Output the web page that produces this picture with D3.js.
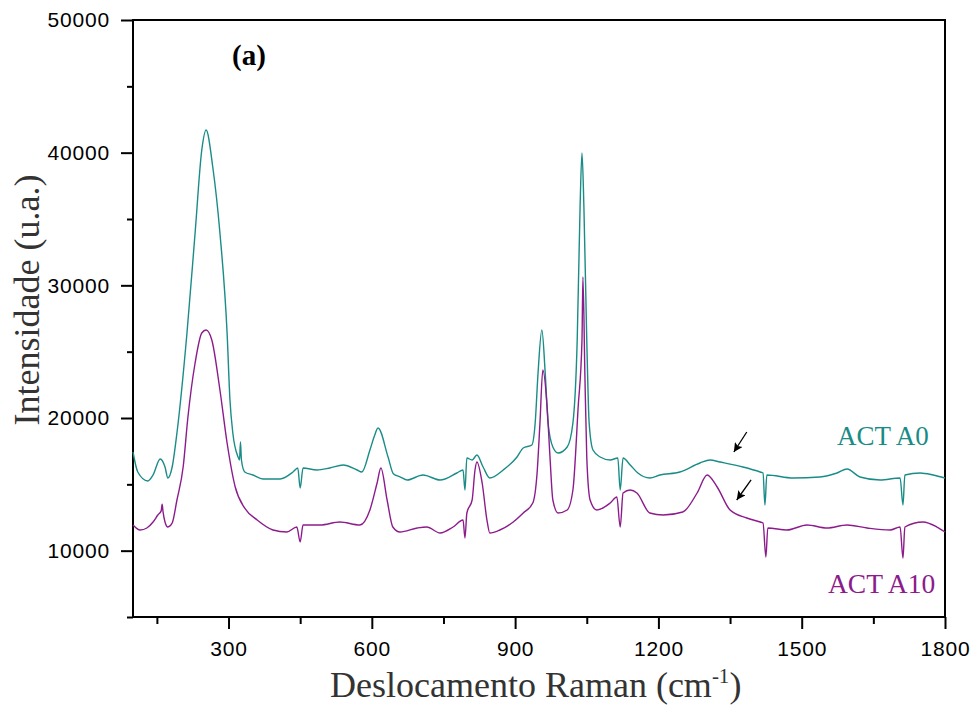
<!DOCTYPE html>
<html>
<head>
<meta charset="utf-8">
<script src="https://cdn.jsdelivr.net/npm/d3@7"></script>
<style>
  body { margin: 0; background: #fff; }
  svg { display: block; }
</style>
</head>
<body>
<script>
const width = 979, height = 708;
const margin = { top: 20, right: 34, bottom: 91, left: 133 };

// spectrum ACT A0 (Raman shift cm-1, intensity)
const shiftA0 = [100, 110, 131, 142, 157, 167, 173, 182, 192, 213, 230, 244, 253, 267, 282, 297, 303, 309, 320, 323, 325, 327, 334, 351, 372, 408, 435, 445, 450, 456, 485, 512, 540, 569, 579, 596, 605, 613, 634, 645, 660, 674, 707, 743, 778, 791, 795, 799, 810, 820, 833, 847, 875, 904, 917, 935, 942, 948, 956, 963, 969, 979, 990, 1009, 1021, 1030, 1036, 1040, 1044, 1050, 1055, 1063, 1078, 1099, 1115, 1120, 1126, 1141, 1157, 1182, 1203, 1245, 1287, 1308, 1329, 1377, 1413, 1419, 1423, 1427, 1482, 1538, 1574, 1595, 1622, 1664, 1706, 1712, 1716, 1748, 1775, 1800];
const intA0 = [17437, 15930, 15251, 15704, 16909, 16306, 15477, 16306, 18869, 26407, 33945, 40201, 41709, 38920, 33945, 26407, 21357, 18869, 17060, 16834, 18191, 16834, 15930, 15704, 15402, 15402, 15930, 16231, 14724, 16231, 16080, 16231, 16457, 16080, 15930, 17588, 18600, 19246, 17060, 15800, 15550, 15327, 15704, 15327, 15854, 16080, 14573, 16985, 16834, 17211, 16306, 15477, 16080, 17060, 17739, 17965, 19623, 23392, 26633, 23392, 19623, 17814, 17362, 17814, 19623, 25879, 35905, 39975, 35905, 25879, 19623, 17588, 17060, 16834, 16985, 14573, 16985, 16457, 15854, 15477, 15700, 15930, 16608, 16834, 16683, 16306, 15930, 15854, 13442, 15704, 15477, 15553, 15854, 16155, 15553, 15327, 15477, 13442, 15704, 15854, 15704, 15477];

// spectrum ACT A10
const shiftA10 = [100, 115, 129, 142, 152, 159, 161, 163, 167, 173, 182, 192, 205, 215, 230, 244, 253, 265, 282, 297, 314, 334, 360, 393, 422, 443, 450, 456, 492, 533, 575, 596, 611, 619, 632, 644, 659, 695, 715, 743, 770, 791, 795, 799, 810, 816, 820, 831, 841, 847, 868, 896, 917, 937, 946, 952, 958, 967, 973, 979, 990, 1009, 1021, 1032, 1040, 1042, 1046, 1050, 1057, 1071, 1099, 1113, 1120, 1126, 1141, 1155, 1182, 1210, 1251, 1281, 1302, 1323, 1350, 1385, 1413, 1419, 1425, 1429, 1469, 1511, 1553, 1595, 1637, 1685, 1706, 1712, 1716, 1754, 1783, 1800];
const intA10 = [11934, 11558, 11708, 12161, 12688, 13000, 13500, 12900, 12161, 11783, 12085, 13819, 16306, 20075, 24146, 26407, 26633, 25879, 22111, 18116, 14800, 13200, 12311, 11558, 11407, 11783, 10653, 11934, 11934, 12161, 11934, 13065, 15100, 16231, 13819, 11783, 11407, 11708, 11783, 11331, 11783, 12311, 10955, 12839, 13819, 16080, 16683, 15100, 12311, 11331, 11558, 12161, 12839, 13593, 15854, 19623, 23618, 20829, 17060, 13819, 12839, 13065, 14573, 20829, 25879, 30628, 23392, 17060, 13819, 13065, 13593, 14045, 11783, 14347, 14573, 14347, 12839, 12688, 12915, 14347, 15704, 14799, 13065, 12462, 12161, 12085, 9522, 11708, 11558, 11934, 11708, 11934, 11708, 11558, 11783, 9447, 11783, 12161, 11783, 11407];

const xTicks = d3.range(150, 1801, 150);
const yTicks = d3.range(5000, 50001, 5000);

// arrows: [tailX, tailY, tipX, tipY] in data units
const arrows = [
  [1385, 18944, 1358, 17437],
  [1394, 15327, 1364, 13819]
];

const colA0 = "#1a8c87", colA10 = "#8c1c8c";

const svg = d3.select("body").append("svg")
    .attr("width", width)
    .attr("height", height);

const x = d3.scaleLinear().domain([100, 1800]).range([margin.left, width - margin.right]);
const y = d3.scaleLinear().domain([5000, 50000]).range([height - margin.bottom, margin.top]);

// axes: minor ticks short, major ticks long and labelled
svg.append("g")
    .attr("transform", `translate(0,${height - margin.bottom})`)
    .call(d3.axisBottom(x).tickValues(xTicks.filter(d => d % 300 !== 0)).tickSize(7).tickSizeOuter(0).tickFormat(""))
    .call(g => g.select(".domain").remove());
svg.append("g")
    .attr("transform", `translate(0,${height - margin.bottom})`)
    .call(d3.axisBottom(x).tickValues(xTicks.filter(d => d % 300 === 0)).tickSize(12).tickPadding(12).tickSizeOuter(0).tickFormat(d3.format("d")))
    .call(g => g.select(".domain").remove());

svg.append("g")
    .attr("transform", `translate(${margin.left},0)`)
    .call(d3.axisLeft(y).tickValues(yTicks.filter(d => d % 10000 !== 0)).tickSize(6).tickSizeOuter(0).tickFormat(""))
    .call(g => g.select(".domain").remove());
svg.append("g")
    .attr("transform", `translate(${margin.left},0)`)
    .call(d3.axisLeft(y).tickValues(yTicks.filter(d => d % 10000 === 0)).tickSize(12).tickPadding(11).tickSizeOuter(0).tickFormat(d3.format("d")))
    .call(g => g.select(".domain").remove());

svg.selectAll(".tick line").attr("stroke", "#000").attr("stroke-width", 2);
svg.selectAll(".tick text")
    .attr("fill", "#000")
    .style("font-family", "'Liberation Sans', Arial, sans-serif")
    .style("font-size", "21px")
    .style("letter-spacing", "0.8px");

// frame
svg.append("rect")
    .attr("x", margin.left)
    .attr("y", margin.top)
    .attr("width", width - margin.left - margin.right)
    .attr("height", height - margin.top - margin.bottom)
    .attr("fill", "none")
    .attr("stroke", "#000")
    .attr("stroke-width", 2);

// spectra
const line = d3.line()
    .x(d => x(d[0]))
    .y(d => y(d[1]))
    .curve(d3.curveMonotoneX);

svg.append("path")
    .datum(d3.zip(shiftA0, intA0))
    .attr("fill", "none")
    .attr("stroke", colA0)
    .attr("stroke-width", 1.4)
    .attr("d", line);

svg.append("path")
    .datum(d3.zip(shiftA10, intA10))
    .attr("fill", "none")
    .attr("stroke", colA10)
    .attr("stroke-width", 1.4)
    .attr("d", line);

// arrows
svg.append("defs").append("marker")
    .attr("id", "head")
    .attr("viewBox", "0 0 10 10")
    .attr("refX", 10).attr("refY", 5)
    .attr("markerWidth", 13).attr("markerHeight", 9)
    .attr("markerUnits", "userSpaceOnUse")
    .attr("orient", "auto")
  .append("path")
    .attr("d", "M0,0 L10,5 L0,10 L2,5 Z")
    .attr("fill", "#000");

svg.selectAll(".arrow")
  .data(arrows)
  .enter().append("line")
    .attr("class", "arrow")
    .attr("x1", d => x(d[0])).attr("y1", d => y(d[1]))
    .attr("x2", d => x(d[2])).attr("y2", d => y(d[3]))
    .attr("stroke", "#000")
    .attr("stroke-width", 1.3)
    .attr("marker-end", "url(#head)");

// labels
const serif = "'Liberation Serif', 'Times New Roman', serif";

svg.append("text")
    .attr("x", x(1574)).attr("y", y(17965))
    .attr("fill", colA0)
    .style("font-family", serif).style("font-size", "27px")
    .text("ACT A0");

svg.append("text")
    .attr("x", x(1555)).attr("y", y(6809))
    .attr("fill", colA10)
    .style("font-family", serif).style("font-size", "27.5px")
    .text("ACT A10");

svg.append("text")
    .attr("x", 232).attr("y", 65)
    .style("font-family", serif).style("font-size", "29px").style("font-weight", "bold")
    .text("(a)");

// axis titles
const xTitle = svg.append("text")
    .attr("x", 330).attr("y", 697)
    .attr("fill", "#333")
    .style("font-family", serif).style("font-size", "36px");
xTitle.append("tspan").text("Deslocamento Raman (cm");
xTitle.append("tspan").attr("dy", -14).style("font-size", "21px").text("-1");
xTitle.append("tspan").attr("dy", 14).text(")");

svg.append("text")
    .attr("transform", "translate(39,300) rotate(-90)")
    .attr("text-anchor", "middle")
    .attr("fill", "#333")
    .style("font-family", serif).style("font-size", "36px")
    .text("Intensidade (u.a.)");
</script>
</body>
</html>
